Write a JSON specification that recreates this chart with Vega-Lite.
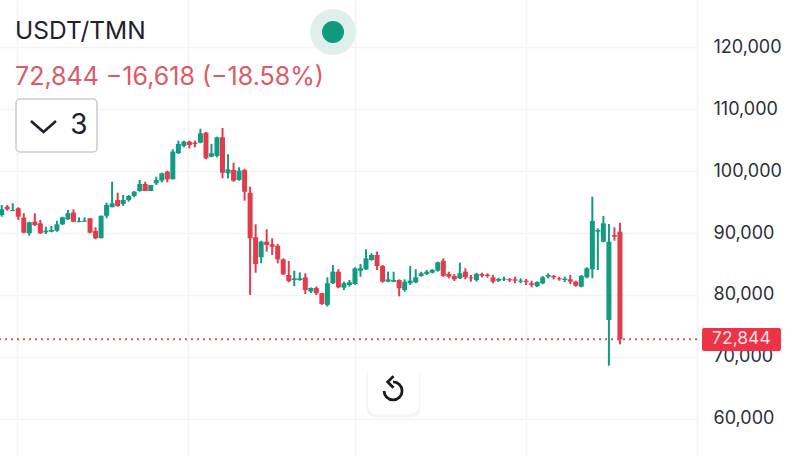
{
  "$schema": "https://vega.github.io/schema/vega-lite/v6.json",
  "description": "USDT/TMN candlestick chart",
  "width": 697,
  "height": 456,
  "autosize": "none",
  "padding": {"left": 0, "top": 0, "right": 99, "bottom": 0},
  "background": "#ffffff",
  "title": {
    "text": "USDT/TMN",
    "subtitle": "72,844 −16,618 (−18.58%)",
    "anchor": "start",
    "frame": "group",
    "dx": 15,
    "dy": 95,
    "offset": 4,
    "font": "Inter",
    "fontSize": 24.5,
    "fontWeight": 400,
    "color": "#1e222d",
    "subtitleFont": "Inter",
    "subtitleFontSize": 25,
    "subtitleColor": "#dc5a66",
    "subtitlePadding": 21
  },
  "datasets": {
    "candles": [
      {"i":0,"open":92900,"high":94520,"low":92630,"close":93820},
      {"i":1,"open":94240,"high":94520,"low":93600,"close":93820},
      {"i":2,"open":93550,"high":94790,"low":93550,"close":93710},
      {"i":3,"open":93990,"high":94150,"low":92100,"close":92630},
      {"i":4,"open":92470,"high":93180,"low":89950,"close":90050},
      {"i":5,"open":89950,"high":91820,"low":89570,"close":91730},
      {"i":6,"open":91820,"high":93180,"low":91130,"close":91290},
      {"i":7,"open":91560,"high":92100,"low":89840,"close":89950},
      {"i":8,"open":90110,"high":91020,"low":89840,"close":90370},
      {"i":9,"open":90210,"high":91130,"low":90110,"close":90480},
      {"i":10,"open":90370,"high":91980,"low":90210,"close":91400},
      {"i":11,"open":91400,"high":92630,"low":91290,"close":92530},
      {"i":12,"open":92210,"high":93710,"low":92100,"close":93180},
      {"i":13,"open":93280,"high":93820,"low":91730,"close":91820},
      {"i":14,"open":91780,"high":92530,"low":91730,"close":91940},
      {"i":15,"open":91820,"high":92530,"low":91780,"close":91980},
      {"i":16,"open":92370,"high":92370,"low":89950,"close":90050},
      {"i":17,"open":90320,"high":90920,"low":88990,"close":89150},
      {"i":18,"open":89150,"high":92790,"low":89150,"close":92790},
      {"i":19,"open":92790,"high":94890,"low":92370,"close":94520},
      {"i":20,"open":94150,"high":98280,"low":94150,"close":94790},
      {"i":21,"open":95320,"high":96500,"low":94240,"close":94360},
      {"i":22,"open":94680,"high":96130,"low":94360,"close":95320},
      {"i":23,"open":95320,"high":96130,"low":95050,"close":95970},
      {"i":24,"open":95970,"high":96770,"low":95760,"close":96660},
      {"i":25,"open":96770,"high":98550,"low":96660,"close":97900},
      {"i":26,"open":97900,"high":98280,"low":96770,"close":96770},
      {"i":27,"open":96770,"high":97740,"low":96770,"close":97740},
      {"i":28,"open":98020,"high":99080,"low":97740,"close":98550},
      {"i":29,"open":98440,"high":99730,"low":98180,"close":99630},
      {"i":30,"open":99890,"high":100050,"low":98180,"close":98660},
      {"i":31,"open":98660,"high":103500,"low":98660,"close":103120},
      {"i":32,"open":102860,"high":104890,"low":102750,"close":104360},
      {"i":33,"open":104030,"high":104890,"low":103820,"close":104730},
      {"i":34,"open":104730,"high":104890,"low":103660,"close":104200},
      {"i":35,"open":104570,"high":104890,"low":103820,"close":104360},
      {"i":36,"open":104570,"high":106820,"low":104470,"close":106080},
      {"i":37,"open":106180,"high":106290,"low":101890,"close":102050},
      {"i":38,"open":102310,"high":104360,"low":102210,"close":102860},
      {"i":39,"open":102420,"high":105530,"low":102210,"close":105440},
      {"i":40,"open":105440,"high":106940,"low":98820,"close":99730},
      {"i":41,"open":99630,"high":102700,"low":98820,"close":100280},
      {"i":42,"open":100160,"high":101340,"low":98280,"close":98440},
      {"i":43,"open":98550,"high":100600,"low":98440,"close":100050},
      {"i":44,"open":100160,"high":100370,"low":95210,"close":96660},
      {"i":45,"open":96500,"high":97470,"low":80000,"close":89150},
      {"i":46,"open":89310,"high":91400,"low":83600,"close":85000},
      {"i":47,"open":86080,"high":88760,"low":85110,"close":88600},
      {"i":48,"open":88600,"high":90600,"low":86990,"close":88070},
      {"i":49,"open":88180,"high":89150,"low":86450,"close":87790},
      {"i":50,"open":87950,"high":88220,"low":85110,"close":85750},
      {"i":51,"open":85750,"high":85920,"low":83230,"close":83340},
      {"i":52,"open":83230,"high":85480,"low":82050,"close":82250},
      {"i":53,"open":82420,"high":83920,"low":81420,"close":82690},
      {"i":54,"open":82420,"high":83660,"low":82290,"close":82690},
      {"i":55,"open":82850,"high":83500,"low":80160,"close":80810},
      {"i":56,"open":80570,"high":81230,"low":80290,"close":81130},
      {"i":57,"open":81130,"high":81390,"low":80000,"close":80290},
      {"i":58,"open":80290,"high":80340,"low":78400,"close":78560},
      {"i":59,"open":78400,"high":82860,"low":78130,"close":81890},
      {"i":60,"open":81890,"high":84840,"low":81780,"close":83760},
      {"i":61,"open":83760,"high":84150,"low":81080,"close":81240},
      {"i":62,"open":81180,"high":82150,"low":80810,"close":81890},
      {"i":63,"open":81610,"high":82420,"low":81340,"close":82050},
      {"i":64,"open":81770,"high":84470,"low":81660,"close":84300},
      {"i":65,"open":83920,"high":85000,"low":82950,"close":84300},
      {"i":66,"open":84140,"high":87370,"low":84030,"close":85920},
      {"i":67,"open":85640,"high":86720,"low":85530,"close":86450},
      {"i":68,"open":86450,"high":86990,"low":84030,"close":84680},
      {"i":69,"open":84680,"high":84840,"low":81990,"close":82150},
      {"i":70,"open":82150,"high":83760,"low":82050,"close":82530},
      {"i":71,"open":82150,"high":83760,"low":82050,"close":82420},
      {"i":72,"open":82420,"high":82530,"low":79790,"close":81080},
      {"i":73,"open":80810,"high":82530,"low":80530,"close":82150},
      {"i":74,"open":81890,"high":84680,"low":81610,"close":82310},
      {"i":75,"open":82050,"high":84150,"low":81890,"close":82850},
      {"i":76,"open":83070,"high":83760,"low":82950,"close":83500},
      {"i":77,"open":83390,"high":84030,"low":83230,"close":83760},
      {"i":78,"open":83600,"high":84190,"low":83470,"close":84030},
      {"i":79,"open":83920,"high":85370,"low":83760,"close":85270},
      {"i":80,"open":85530,"high":85920,"low":82950,"close":83060},
      {"i":81,"open":83390,"high":83760,"low":82690,"close":82950},
      {"i":82,"open":83060,"high":83390,"low":82260,"close":82530},
      {"i":83,"open":82690,"high":85210,"low":82580,"close":83500},
      {"i":84,"open":83760,"high":84310,"low":82530,"close":82850},
      {"i":85,"open":82850,"high":83230,"low":82150,"close":82690},
      {"i":86,"open":82420,"high":83600,"low":82150,"close":83390},
      {"i":87,"open":83390,"high":83600,"low":82850,"close":83110},
      {"i":88,"open":83270,"high":83500,"low":82790,"close":83060},
      {"i":89,"open":82850,"high":83230,"low":81890,"close":82150},
      {"i":90,"open":82310,"high":82790,"low":82100,"close":82580},
      {"i":91,"open":82470,"high":82950,"low":82260,"close":82630},
      {"i":92,"open":82530,"high":82740,"low":82100,"close":82370},
      {"i":93,"open":82530,"high":82950,"low":81890,"close":82310},
      {"i":94,"open":82150,"high":82690,"low":81890,"close":82310},
      {"i":95,"open":82310,"high":82580,"low":81610,"close":82100},
      {"i":96,"open":81890,"high":82310,"low":81240,"close":81610},
      {"i":97,"open":81400,"high":82210,"low":81290,"close":82100},
      {"i":98,"open":81890,"high":83060,"low":81730,"close":82850},
      {"i":99,"open":82950,"high":83500,"low":82690,"close":83230},
      {"i":100,"open":83060,"high":83230,"low":82530,"close":82850},
      {"i":101,"open":82690,"high":82950,"low":82310,"close":82530},
      {"i":102,"open":82420,"high":82950,"low":82100,"close":82630},
      {"i":103,"open":82530,"high":83230,"low":81730,"close":82150},
      {"i":104,"open":82150,"high":82310,"low":81340,"close":81500},
      {"i":105,"open":81340,"high":83230,"low":81240,"close":83060},
      {"i":106,"open":82850,"high":84470,"low":82690,"close":84300},
      {"i":107,"open":84160,"high":95860,"low":82710,"close":91930},
      {"i":108,"open":90210,"high":90750,"low":84030,"close":90480},
      {"i":109,"open":88600,"high":92740,"low":88500,"close":91560},
      {"i":110,"open":75960,"high":91450,"low":68600,"close":88600},
      {"i":111,"open":89680,"high":90920,"low":88760,"close":89410},
      {"i":112,"open":90210,"high":91660,"low":72040,"close":72844}
    ]
  },
  "data": {"name": "candles"},
  "layer": [
    {
      "mark": {"type": "rule", "strokeWidth": 2},
      "encoding": {
        "x": {
          "field": "i",
          "type": "quantitative",
          "title": null,
          "scale": {"domain": [-0.31, 125.96], "nice": false, "zero": false, "padding": 0},
          "axis": {
            "values": [2.8, 33.8, 64, 95, 125.9],
            "labels": false,
            "ticks": false,
            "domain": false,
            "grid": true,
            "gridColor": "#f3f4f6",
            "gridWidth": 1.5
          }
        },
        "y": {
          "field": "low",
          "type": "quantitative",
          "title": null,
          "scale": {"domain": [54032, 127581], "nice": false, "zero": false},
          "axis": {
            "orient": "right",
            "values": [60000, 70000, 80000, 90000, 100000, 110000, 120000],
            "format": ",d",
            "labelFont": "Inter",
            "labelFontSize": 18,
            "labelColor": "#2b2f3a",
            "labelPadding": 16,
            "ticks": false,
            "domain": false,
            "grid": true,
            "gridColor": "#f3f4f6",
            "gridWidth": 1.5
          }
        },
        "y2": {"field": "high"},
        "color": {
          "condition": {"test": "datum.close >= datum.open", "value": "#129a82"},
          "value": "#e03c4b"
        }
      }
    },
    {
      "mark": {"type": "bar", "size": 5},
      "encoding": {
        "x": {"field": "i", "type": "quantitative"},
        "y": {"field": "open", "type": "quantitative"},
        "y2": {"field": "close"},
        "color": {
          "condition": {"test": "datum.close >= datum.open", "value": "#129a82"},
          "value": "#e03c4b"
        }
      }
    },
    {
      "data": {"values": [{"label": "last price"}]},
      "mark": {"type": "rule", "color": "#d9505e", "strokeWidth": 2, "strokeDash": [2, 4]},
      "encoding": {"y": {"datum": 72844, "type": "quantitative"}}
    },
    {
      "data": {"values": [{"label": "halo"}]},
      "mark": {"type": "point", "shape": "circle", "filled": true, "size": 2116, "color": "#dff0ec", "opacity": 1},
      "encoding": {
        "x": {"datum": 60.02, "type": "quantitative"},
        "y": {"datum": 122420, "type": "quantitative"}
      }
    },
    {
      "data": {"values": [{"label": "dot"}]},
      "mark": {"type": "point", "shape": "circle", "filled": true, "size": 484, "color": "#0f9a80", "opacity": 1},
      "encoding": {
        "x": {"datum": 60.02, "type": "quantitative"},
        "y": {"datum": 122420, "type": "quantitative"}
      }
    },
    {
      "data": {"values": [{"label": "interval box"}]},
      "mark": {"type": "rect", "fill": "#ffffff", "stroke": "#c8cbd4", "strokeWidth": 1.5, "cornerRadius": 4},
      "encoding": {
        "x": {"datum": 2.59, "type": "quantitative"},
        "x2": {"datum": 17.26},
        "y": {"datum": 111615, "type": "quantitative"},
        "y2": {"datum": 103066}
      }
    },
    {
      "data": {"values": [{"label": "chevron"}]},
      "mark": {"type": "point", "shape": "M-1,-0.44L0,0.44L1,-0.44", "filled": false, "size": 625, "stroke": "#1e222d", "strokeWidth": 2.6, "opacity": 1},
      "encoding": {
        "x": {"datum": 7.57, "type": "quantitative"},
        "y": {"datum": 107180, "type": "quantitative"}
      }
    },
    {
      "data": {"values": [{"label": "3"}]},
      "mark": {"type": "text", "font": "Inter", "fontSize": 28, "color": "#1e222d", "align": "center", "baseline": "middle"},
      "encoding": {
        "x": {"datum": 14, "type": "quantitative"},
        "y": {"datum": 107180, "type": "quantitative"},
        "text": {"field": "label"}
      }
    },
    {
      "data": {"values": [{"label": "button shadow"}]},
      "mark": {"type": "rect", "fill": "#000000", "opacity": 0.04, "cornerRadius": 9},
      "encoding": {
        "x": {"datum": 66.1, "type": "quantitative"},
        "x2": {"datum": 75.85},
        "y": {"datum": 68400, "type": "quantitative"},
        "y2": {"datum": 60250}
      }
    },
    {
      "data": {"values": [{"label": "reset button"}]},
      "mark": {"type": "rect", "fill": "#ffffff", "cornerRadius": 8},
      "encoding": {
        "x": {"datum": 66.36, "type": "quantitative"},
        "x2": {"datum": 75.6},
        "y": {"datum": 68710, "type": "quantitative"},
        "y2": {"datum": 60810}
      }
    },
    {
      "data": {"values": [{"label": "reset arc"}]},
      "mark": {"type": "point", "shape": "M0,-1A1,1,0,1,1,-1,0", "filled": false, "size": 324, "stroke": "#1a1a1a", "strokeWidth": 2.8, "opacity": 1},
      "encoding": {
        "x": {"datum": 70.9, "type": "quantitative"},
        "y": {"datum": 64520, "type": "quantitative"}
      }
    },
    {
      "data": {"values": [{"label": "reset arrow"}]},
      "mark": {"type": "point", "shape": "M0.05,-1.65L-0.6,-1L0.05,-0.35", "filled": false, "size": 324, "stroke": "#1a1a1a", "strokeWidth": 2.8, "opacity": 1},
      "encoding": {
        "x": {"datum": 70.9, "type": "quantitative"},
        "y": {"datum": 64520, "type": "quantitative"}
      }
    },
    {
      "data": {"values": [{"label": "price tag"}]},
      "mark": {"type": "rect", "fill": "#ee3347", "cornerRadius": 2},
      "encoding": {
        "x": {"datum": 126.87, "type": "quantitative"},
        "x2": {"datum": 141.17},
        "y": {"datum": 74680, "type": "quantitative"},
        "y2": {"datum": 70970}
      }
    },
    {
      "data": {"values": [{"label": "72,844"}]},
      "mark": {"type": "text", "font": "Inter", "fontSize": 17.5, "color": "#ffdfe2", "align": "center", "baseline": "middle"},
      "encoding": {
        "x": {"datum": 134, "type": "quantitative"},
        "y": {"datum": 72844, "type": "quantitative"},
        "text": {"field": "label"}
      }
    }
  ],
  "config": {"view": {"stroke": null}}
}
